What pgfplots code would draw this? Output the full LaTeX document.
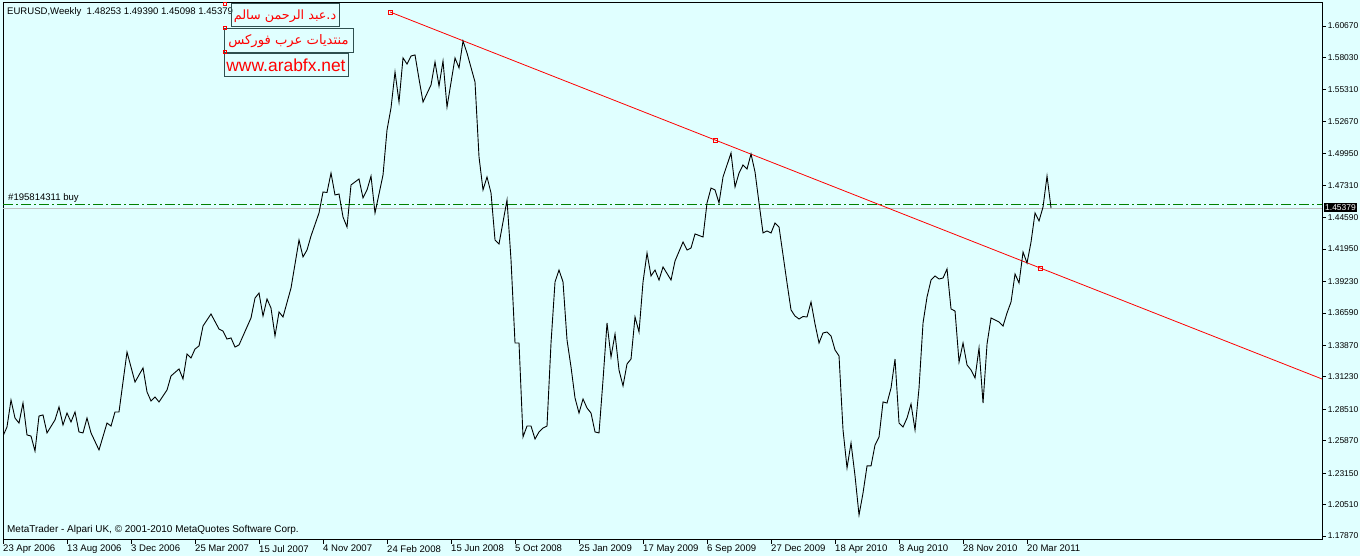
\documentclass[border=0pt]{standalone}
\usepackage{pgfplots}
\pgfplotsset{compat=1.18}
\usepackage{fontspec}
\setmainfont{Liberation Sans}
\newfontfamily\arabicfont[Script=Arabic]{DejaVu Sans}
\TeXXeTstate=1
\definecolor{mtbg}{RGB}{224,255,255}
\definecolor{mtgreen}{RGB}{0,128,0}
\definecolor{boxedge}{RGB}{47,79,79}
\definecolor{bidgray}{RGB}{192,192,192}

% weekly closes, x = week number counted from 23 Apr 2006
\pgfplotstableread{
w p
0 1.2626
1 1.2702
2 1.2928
3 1.2777
4 1.2735
5 1.2903
6 1.2635
7 1.2626
8 1.2500
9 1.2794
10 1.2803
11 1.2652
13 1.2761
14 1.2870
15 1.2719
16 1.2819
17 1.2744
18 1.2828
19 1.2660
20 1.2652
21 1.2777
22 1.2652
24 1.2509
26 1.2735
27 1.2710
28 1.2828
29 1.2828
31 1.3331
33 1.3079
35 1.3197
36 1.2996
37 1.2920
38 1.2954
39 1.2912
41 1.3012
42 1.3130
44 1.3189
45 1.3105
46 1.3314
47 1.3281
48 1.3356
49 1.3382
50 1.3549
52 1.3650
54 1.3524
55 1.3507
56 1.3440
57 1.3449
58 1.3373
59 1.3390
62 1.3617
63 1.3784
64 1.3826
65 1.3633
66 1.3776
67 1.3700
68 1.3466
69 1.3667
70 1.3625
72 1.3868
74 1.4271
75 1.4129
76 1.4187
77 1.4305
79 1.4498
80 1.4674
81 1.4670
82 1.4833
83 1.4649
84 1.4657
85 1.4464
86 1.4380
87 1.4733
89 1.4783
90 1.4624
91 1.4691
92 1.4808
93 1.4498
95 1.4817
96 1.5194
97 1.5379
98 1.5681
99 1.5429
100 1.5799
101 1.5748
102 1.5815
103 1.5824
104 1.5622
105 1.5429
107 1.5572
108 1.5765
109 1.5563
110 1.5773
111 1.5387
113 1.5799
114 1.5715
115 1.5941
116 1.5840
118 1.5597
119 1.4968
120 1.4691
121 1.4800
122 1.4666
123 1.4271
124 1.4238
126 1.4607
127 1.4103
128 1.3407
129 1.3407
130 1.2618
131 1.2710
132 1.2710
133 1.2601
134 1.2660
135 1.2693
136 1.2710
137 1.3407
138 1.3919
139 1.4019
140 1.3919
141 1.3432
142 1.3205
143 1.2945
144 1.2819
145 1.2937
146 1.2861
147 1.2819
148 1.2660
149 1.2652
150 1.3096
151 1.3575
152 1.3289
153 1.3482
154 1.3180
155 1.3046
156 1.3231
157 1.3272
158 1.3625
159 1.3499
160 1.3919
161 1.4162
162 1.3969
163 1.4019
164 1.3935
165 1.4045
167 1.3935
168 1.4095
170 1.4254
171 1.4187
172 1.4204
173 1.4322
175 1.4296
176 1.4582
177 1.4707
178 1.4691
179 1.4582
180 1.4800
182 1.5001
183 1.4716
184 1.4833
185 1.4901
186 1.4867
187 1.4993
188 1.4842
189 1.4582
190 1.4330
191 1.4347
192 1.4330
193 1.4414
194 1.4380
196 1.3910
197 1.3684
198 1.3633
199 1.3608
200 1.3629
201 1.3625
202 1.3751
203 1.3566
204 1.3407
205 1.3491
206 1.3499
207 1.3466
208 1.3348
209 1.3298
210 1.2677
211 1.2358
212 1.2568
213 1.2291
214 1.1963
215 1.2148
216 1.2375
217 1.2375
218 1.2551
219 1.2618
220 1.2912
221 1.2903
222 1.3029
223 1.3272
224 1.2735
225 1.2702
226 1.2777
227 1.2895
228 1.2677
229 1.3029
230 1.3575
231 1.3793
232 1.3935
233 1.3969
234 1.3944
235 1.3952
236 1.4028
237 1.3692
238 1.3675
239 1.3247
240 1.3407
241 1.3222
242 1.3180
243 1.3113
244 1.3365
245 1.2903
246 1.3398
247 1.3617
249 1.3583
250 1.3549
251 1.3659
252 1.3751
253 1.3986
254 1.3910
255 1.4170
256 1.4078
257 1.4254
258 1.4498
259 1.4431
260 1.4548
261 1.4808
262 1.4538
}\eurusd

\begin{document}
\begin{tikzpicture}[x=1bp,y=1bp,font=\fontsize{9.6}{11}\selectfont]
\path[use as bounding box] (0,0) rectangle (1360,556);
\clip (0,0) rectangle (1360,556);
\fill[mtbg] (0,0) rectangle (1360,556);
\begin{axis}[
  at={(3bp,16bp)}, anchor=south west,
  scale only axis, width=1319bp, height=537bp,
  xmin=0, xmax=329.75, ymin=1.17535, ymax=1.6260,
  axis line style={line width=1bp, black},
  xtick={0,16,...,256},
  xticklabels={23 Apr 2006,13 Aug 2006,3 Dec 2006,25 Mar 2007,15 Jul 2007,4 Nov 2007,24 Feb 2008,15 Jun 2008,5 Oct 2008,25 Jan 2009,17 May 2009,6 Sep 2009,27 Dec 2009,18 Apr 2010,8 Aug 2010,28 Nov 2010,20 Mar 2011},
  ytick={1.1787,1.2051,1.2315,1.2587,1.2851,1.3123,1.3387,1.3659,1.3923,1.4195,1.4459,1.4731,1.4995,1.5267,1.5531,1.5803,1.6067},
  yticklabels={1.17870,1.20510,1.23150,1.25870,1.28510,1.31230,1.33870,1.36590,1.39230,1.41950,1.44590,1.47310,1.49950,1.52670,1.55310,1.58030,1.60670},
  xtick pos=bottom, ytick pos=right,
  tick align=outside, major tick length=4bp,
  tick style={black, line width=0.8bp},
  xticklabel style={anchor=north west, inner sep=0pt, yshift=-1bp},
  yticklabel style={anchor=west, inner sep=0pt, xshift=1.5bp, font=\fontsize{8.5}{10}\selectfont},
]
\addplot[bidgray, line width=1bp] coordinates {(0,1.45379) (329.75,1.45379)};
\addplot[mtgreen, line width=1bp, dash pattern=on 10bp off 3bp on 2bp off 3bp] coordinates {(0,1.4573) (329.75,1.4573)};
\addplot[red, line width=0.8bp] coordinates {(96.75,1.61845) (329.75,1.31046)};
\addplot[red, only marks, mark=square, mark size=2bp, line width=0.6bp] coordinates {(96.75,1.61845) (178,1.51103) (259.25,1.40361)};
\addplot[black, line width=0.9bp] table[x=w, y=p] {\eurusd};
\end{axis}
\node[anchor=west, inner sep=0pt] at (7,544) {EURUSD,Weekly\ \ 1.48253 1.49390 1.45098 1.45379};
\node[anchor=west, inner sep=0pt] at (8,358) {\#195814311 buy};
\node[anchor=west, inner sep=0pt] at (7,26) {\fontsize{10}{11}\selectfont MetaTrader - Alpari UK, \textcopyright{} 2001-2010 MetaQuotes Software Corp.};
\node[anchor=west, fill=black, text=white, inner xsep=1bp, inner ysep=1.5bp, font=\fontsize{8.5}{10}\selectfont] at (1324,348) {1.45379};
\draw[boxedge, line width=1bp] (231,529) rectangle (339,552);
\draw[boxedge, line width=1bp] (224,503) rectangle (353,527);
\draw[boxedge, line width=1bp] (224,479) rectangle (348,502);
\node[text=red, inner sep=0pt] at (285,540) {\arabicfont\fontsize{12.8}{15}\selectfont\beginR د.عبد الرحمن سالم\endR};
\node[text=red, inner sep=0pt] at (288.5,515) {\arabicfont\fontsize{13.2}{15}\selectfont\beginR منتديات عرب فوركس\endR};
\node[text=red, inner sep=0pt] at (286,490.5) {\fontsize{17.5}{19}\selectfont www.arabfx.net};
\draw[red, line width=0.6bp] (223.5,550.5) rectangle ++(3,3);
\draw[red, line width=0.6bp] (223.5,526.5) rectangle ++(3,3);
\draw[red, line width=0.6bp] (223.5,502.5) rectangle ++(3,3);
\end{tikzpicture}
\end{document}
